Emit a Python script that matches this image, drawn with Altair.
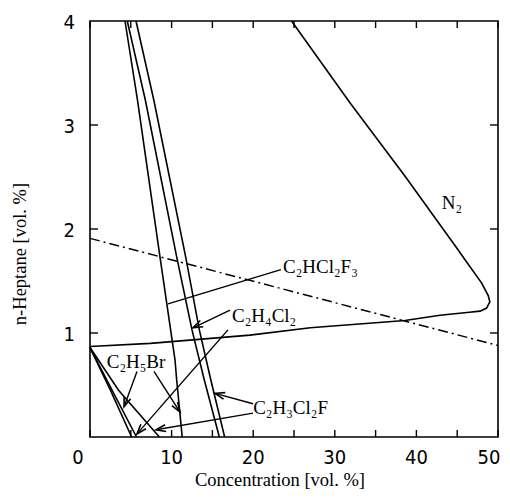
import math
import altair as alt
import pandas as pd

# ---------------- data ----------------
W, H = 408, 416          # plot area in px
XMAX, YMAX = 50, 4

# N2 curve (lower branch -> nose -> upper branch)
n2_x = [0, 7.4, 19.6, 27.0, 38.6, 42.9, 46.5, 47.8, 48.6, 49.0, 48.8, 48.0, 46.0, 45.1, 38.5, 31.9, 24.7]
n2_y = [0.87, 0.90, 0.98, 1.05, 1.12, 1.17, 1.20, 1.21, 1.24, 1.30, 1.36, 1.48, 1.70, 1.80, 2.52, 3.21, 4.0]

# steep (upper-limit) lines of the halogenated agents
l1_x = [4.29, 5.82, 8.58, 10.42, 10.62, 11.3]
l1_y = [4.0, 3.24, 1.73, 0.74, 0.55, 0.0]
l2_x = [4.57, 6.78, 10.63, 12.5, 14.0, 15.85]
l2_y = [4.0, 3.24, 1.73, 1.03, 0.55, 0.0]
l3_x = [5.64, 7.82, 11.73, 13.4, 14.8, 16.5]
l3_y = [4.0, 3.24, 1.73, 1.03, 0.55, 0.0]

# lower-left (lower-limit) lines
a1_x = [0, 2.5, 5.1]
a1_y = [0.86, 0.45, 0.0]
a2_x = [0, 2.7, 5.7]
a2_y = [0.86, 0.45, 0.0]
b_x = [0, 3.5, 8.5]
b_y = [0.86, 0.45, 0.0]

# dash-dot stoichiometric line
dd_x = [0, 50]
dd_y = [1.91, 0.88]

# labels
lab_text = ["N₂", "C₂HCl₂F₃", "C₂H₄Cl₂", "C₂H₃Cl₂F", "C₂H₅Br"]
lab_x = [43.1, 23.65, 17.4, 20.0, 2.05]
lab_y = [2.25, 1.63, 1.16, 0.28, 0.72]

# leader lines / arrows (tail -> head)
arr_x1 = [23.4, 17.16, 16.91, 19.98, 19.98, 5.76, 7.84]
arr_y1 = [1.61, 1.22, 1.03, 0.32, 0.23, 0.63, 0.63]
arr_x2 = [9.56, 12.62, 5.76, 15.32, 8.09, 4.17, 11.03]
arr_y2 = [1.28, 1.05, 0.03, 0.42, 0.07, 0.29, 0.24]
arr_head = [False, True, True, True, True, True, True]

# axis ticks / labels
x_ticks = [0, 5, 10, 15, 20, 25, 30, 35, 40, 45, 50]
y_ticks = [1, 2, 3]
x_labels = [10, 20, 30, 40]
x_label_end = [50]
y_labels = [1, 2, 3, 4]

# ---------------- build ----------------
def cdf(name, xs, ys):
    return pd.DataFrame({"x": xs, "y": ys, "s": name, "o": list(range(len(xs)))})

curves = pd.concat([
    cdf("N2", n2_x, n2_y), cdf("L1", l1_x, l1_y), cdf("L2", l2_x, l2_y),
    cdf("L3", l3_x, l3_y), cdf("A1", a1_x, a1_y), cdf("A2", a2_x, a2_y),
    cdf("B", b_x, b_y),
])

xs = alt.Scale(domain=[0, XMAX], nice=False, zero=False)
ys = alt.Scale(domain=[0, YMAX], nice=False, zero=False)
X = lambda f="x": alt.X(f"{f}:Q", scale=xs, axis=None)
Y = lambda f="y": alt.Y(f"{f}:Q", scale=ys, axis=None)

lines = alt.Chart(curves).mark_line(color="black", strokeWidth=1.6).encode(
    x=X(), y=Y(), detail="s:N", order="o:Q")

dd = alt.Chart(pd.DataFrame({"x": dd_x, "y": dd_y})).mark_line(
    color="black", strokeWidth=1.5, strokeDash=[10, 4, 2, 4]).encode(x=X(), y=Y())

arr = pd.DataFrame({"x": arr_x1, "y": arr_y1, "x2": arr_x2, "y2": arr_y2, "head": arr_head})
angs = []
for x1, y1, x2, y2 in zip(arr_x1, arr_y1, arr_x2, arr_y2):
    dxp = (x2 - x1) * W / XMAX
    dyp = -(y2 - y1) * H / YMAX
    angs.append(math.degrees(math.atan2(dxp, -dyp)) % 360)
arr["ang"] = angs

leaders = alt.Chart(arr).mark_rule(color="black", strokeWidth=1.4).encode(
    x=X(), y=Y(), x2="x2:Q", y2="y2:Q")
heads = alt.Chart(arr[arr["head"]]).mark_point(
    shape="M-0.35,1 L0,0 L0.35,1", filled=False, stroke="black", strokeWidth=1.6,
    size=380, opacity=1).encode(
    x=X("x2"), y=Y("y2"), angle=alt.Angle("ang:Q", scale=None))

labels = alt.Chart(pd.DataFrame({"t": lab_text, "x": lab_x, "y": lab_y})).mark_text(
    font="Liberation Serif", fontSize=19, align="left", baseline="middle", color="black"
).encode(x=X(), y=Y(), text="t:N")

# ticks (inward)
xt = pd.DataFrame({"x": x_ticks})
yt = pd.DataFrame({"y": y_ticks})
tick_b = alt.Chart(xt).mark_rule(color="black", strokeWidth=1.4).encode(
    x=X(), y=alt.value(H), y2=alt.value(H - 7))
tick_t = alt.Chart(xt).mark_rule(color="black", strokeWidth=1.4).encode(
    x=X(), y=alt.value(0), y2=alt.value(7))
tick_l = alt.Chart(yt).mark_rule(color="black", strokeWidth=1.4).encode(
    y=Y(), x=alt.value(0), x2=alt.value(8))
tick_r = alt.Chart(yt).mark_rule(color="black", strokeWidth=1.4).encode(
    y=Y(), x=alt.value(W), x2=alt.value(W - 8))

numfont = "Liberation Sans Narrow, DejaVu Sans Condensed, Roboto Condensed, Liberation Sans, sans-serif"
xl = alt.Chart(pd.DataFrame({"x": x_labels, "t": [str(v) for v in x_labels]})).mark_text(
    font=numfont, fontSize=20, baseline="middle", align="center", color="black"
).encode(x=X(), y=alt.value(H + 21), text="t:N")
x50 = alt.Chart(pd.DataFrame({"x": x_label_end, "t": [str(v) for v in x_label_end]})).mark_text(
    font=numfont, fontSize=20, baseline="middle", align="center", color="black", dx=-9
).encode(x=X(), y=alt.value(H + 21), text="t:N")
x0 = alt.Chart(pd.DataFrame({"x": [0], "t": ["0"]})).mark_text(
    font=numfont, fontSize=20, baseline="middle", align="center", color="black", dx=-12
).encode(x=X(), y=alt.value(H + 21), text="t:N")
yl = alt.Chart(pd.DataFrame({"y": y_labels, "t": [str(v) for v in y_labels]})).mark_text(
    font=numfont, fontSize=20, baseline="middle", align="right", color="black", dy=2
).encode(y=Y(), x=alt.value(-15), text="t:N")

xtitle = alt.Chart(pd.DataFrame({"t": ["Concentration [vol. %]"]})).mark_text(
    font="Liberation Serif", fontSize=18.5, align="center", baseline="alphabetic", color="black"
).encode(x=alt.value(190), y=alt.value(H + 49), text="t:N")
ytitle = alt.Chart(pd.DataFrame({"t": ["n-Heptane [vol. %]"]})).mark_text(
    font="Liberation Serif", fontSize=18.5, align="center", baseline="middle", angle=270,
    color="black"
).encode(x=alt.value(-70), y=alt.value(233), text="t:N")

chart = alt.layer(
    lines, dd, leaders, heads, labels, tick_b, tick_t, tick_l, tick_r,
    xl, x50, x0, yl, xtitle, ytitle
).properties(
    width=W, height=H,
    autosize=alt.AutoSizeParams(type="none"),
    padding={"left": 82, "top": 13, "right": 4, "bottom": 54},
    background="white",
).configure_view(stroke="black", strokeWidth=1.6)

chart.save("out.html", embed_options={"renderer": "svg", "actions": False})
